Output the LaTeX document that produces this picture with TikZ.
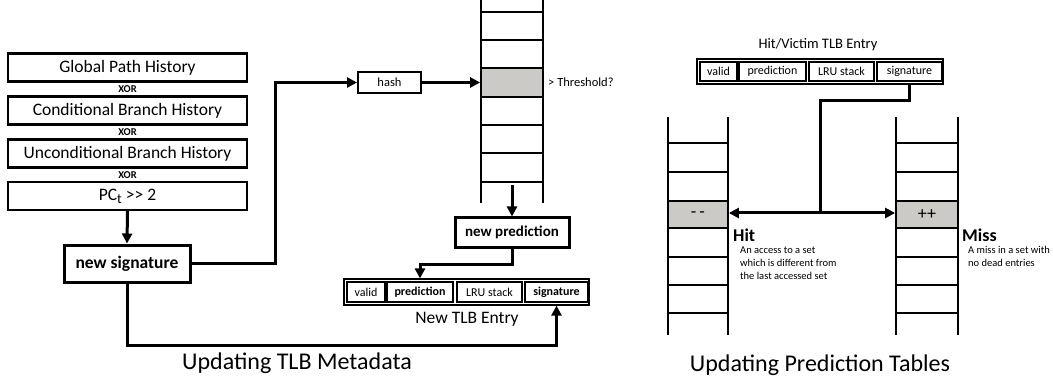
\documentclass[tikz,border=0pt]{standalone}
\usepackage{fontspec}
\setmainfont{Carlito}
\usetikzlibrary{arrows.meta,calc}
\definecolor{cellgray}{RGB}{204,202,198}
\begin{document}
\begin{tikzpicture}[x=1pt,y=-1pt,
  hist/.style={draw,line width=2.2pt,minimum width=239pt,minimum height=28pt,inner sep=0pt,font=\fontsize{17.5}{17.5}\selectfont},
  xorlbl/.style={inner sep=0pt,font=\bfseries\fontsize{10.5}{10.5}\selectfont},
  thickbox/.style={draw,line width=3pt,inner sep=0pt,font=\bfseries\fontsize{17.5}{17.5}\selectfont},
  hashbox/.style={draw,line width=2pt,inner sep=0pt,minimum width=63pt,minimum height=21pt,font=\fontsize{12.5}{12.5}\selectfont},
  outerent/.style={draw,line width=1.2pt,inner sep=0pt,minimum height=26pt},
  cell/.style={draw,line width=1.1pt,inner sep=0pt,minimum height=20pt,font=\fontsize{12}{12}\selectfont},
  graycell/.style={draw,line width=1.8pt,fill=cellgray,inner sep=0pt,font=\fontsize{18}{18}\selectfont},
  tip/.tip={Triangle[length=10pt,width=10pt]},
  conn/.style={line width=3pt,-tip},
  plainconn/.style={line width=3pt},
  tbl/.style={line width=2.2pt},
  title/.style={inner sep=0pt,font=\fontsize{24}{24}\selectfont},
  sub/.style={inner sep=0pt,font=\fontsize{17.5}{17.5}\selectfont},
  desc/.style={inner sep=0pt,anchor=west,font=\fontsize{10.5}{10.5}\selectfont},
  hitlbl/.style={inner sep=0pt,anchor=west,font=\bfseries\fontsize{18}{18}\selectfont}
]
\fill[white] (0,0) rectangle (1053,385);
\useasboundingbox (0,0) rectangle (1053,385);

% ---------- left: history stack ----------
\node[hist] (gph) at (127.5,67.5) {Global Path History};
\node[xorlbl] (x1) at (127.5,89.5) {XOR};
\node[hist] (cbh) at (127.5,110.5) {Conditional Branch History};
\node[xorlbl] (x2) at (127.5,132) {XOR};
\node[hist] (ubh) at (127.5,153.5) {Unconditional Branch History};
\node[xorlbl] (x3) at (127.5,175) {XOR};
\node[hist] (pc) at (127.5,196) {PC\raisebox{-0.35ex}{\fontsize{14}{14}\selectfont t} {>}{>} 2};

\node[thickbox,minimum width=126pt,minimum height=37pt] (sig) at (127,263.5) {new signature};
\draw[conn] (pc.south) -- (sig.north);

% ---------- hash ----------
\node[hashbox] (hash) at (389.5,82.5) {hash};

% ---------- middle table ----------
\draw[tbl] (481,0) -- (481,203);
\draw[tbl] (543,0) -- (543,203);
\foreach \yy in {12,40,68,97,125,153,182} \draw[tbl] (481,\yy) -- (543,\yy);
\node[graycell,minimum width=62pt,minimum height=29pt] (thr) at (512,82.5) {};
\node[inner sep=0pt,anchor=west,font=\fontsize{12.5}{12.5}\selectfont] (thrl) at (548,82.5) {> Threshold?};
\coordinate (tbot) at (512,185);

\draw[conn] (sig.east) -- ++(84,0) |- (hash.west);
\draw[conn] (hash.east) -- (thr.west);

\node[thickbox,minimum width=114pt,minimum height=29pt,font=\bfseries\fontsize{15}{15}\selectfont] (np) at (512,232.5) {new prediction};
\draw[conn] (tbot) -- (np.north);

% ---------- new TLB entry ----------
\node[outerent,minimum width=245pt] (ent) at (466.5,292) {};
\node[cell,minimum width=38pt] (eval) at (366,292) {valid};
\node[cell,minimum width=66pt,font=\bfseries\fontsize{12}{12}\selectfont] (epred) at (420,292) {prediction};
\node[cell,minimum width=65pt] (elru) at (489.5,292) {LRU stack};
\node[cell,minimum width=63pt,font=\bfseries\fontsize{12}{12}\selectfont] (esig) at (556.5,292) {signature};
\node[sub] (entl) at (467,319) {New TLB Entry};

\draw[conn] (np.south) -- ++(0,16) -| (epred |- ent.north);
\draw[conn] (sig.south) -- ++(0,62) -| (esig |- ent.south);

\node[title] (t1) at (297,363) {Updating TLB Metadata};

% ---------- right: prediction tables ----------
\node[inner sep=0pt,font=\fontsize{14.5}{14.5}\selectfont] (hvl) at (818,45) {Hit/Victim TLB Entry};
\node[outerent,minimum width=246pt,minimum height=25pt] (hent) at (820,71.5) {};
\node[cell,minimum width=37pt,minimum height=19pt] (hval) at (718.5,71.5) {valid};
\node[cell,minimum width=67pt,minimum height=19pt] (hpred) at (772.5,71.5) {prediction};
\node[cell,minimum width=65pt,minimum height=19pt] (hlru) at (841.5,71.5) {LRU stack};
\node[cell,minimum width=65pt,minimum height=19pt] (hsig) at (909.5,71.5) {signature};

% left table
\draw[tbl] (668,117) -- (668,335);
\draw[tbl] (728,117) -- (728,335);
\foreach \yy in {143,172,201,228,257,285,313} \draw[tbl] (668,\yy) -- (728,\yy);
% right table
\draw[tbl] (896,117) -- (896,335);
\draw[tbl] (958,117) -- (958,335);
\foreach \yy in {143,172,201,228,257,285,313} \draw[tbl] (896,\yy) -- (958,\yy);

\node[graycell,minimum width=60pt,minimum height=27pt] (dec) at (698,214.5) {-\,-};
\node[graycell,minimum width=62pt,minimum height=27pt] (inc) at (927,214.5) {++};

\coordinate (junc) at (820,213);
\draw[plainconn] (hsig.south |- hent.south) -- ++(0,16) -| (junc);
\draw[line width=3pt,tip-tip] (dec.east |- junc) -- (inc.west |- junc);

\node[hitlbl] (hit) at (733,235) {Hit};
\node[desc] (h1) at (740,250) {An access to a set};
\node[desc] (h2) at (740,263) {which is different from};
\node[desc] (h3) at (740,276) {the last accessed set};
\node[hitlbl] (miss) at (962,235) {Miss};
\node[desc] (m1) at (968,250) {A miss in a set with};
\node[desc] (m2) at (968,263) {no dead entries};

\node[title] (t2) at (820,365) {Updating Prediction Tables};
\end{tikzpicture}
\end{document}
